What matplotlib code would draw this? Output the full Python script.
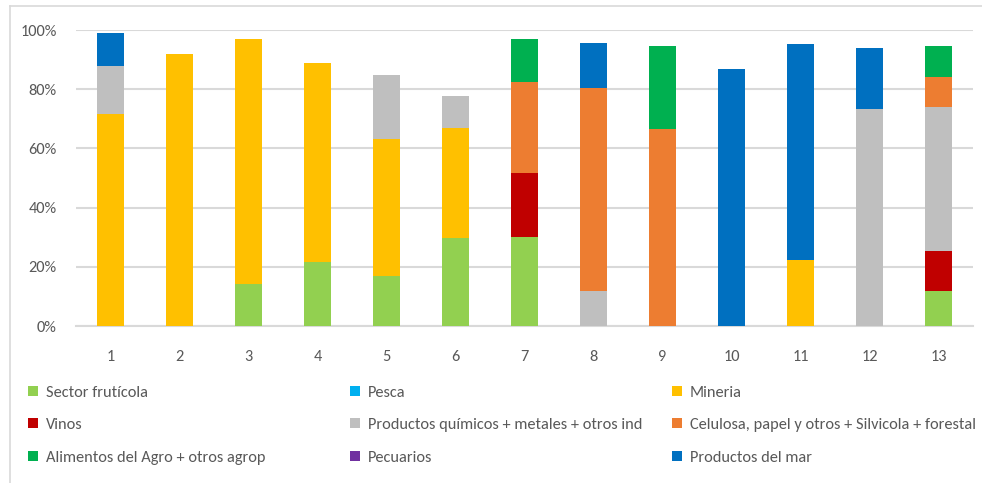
import matplotlib
matplotlib.use("Agg")
import matplotlib.pyplot as plt
from matplotlib.lines import Line2D
from matplotlib.patches import Patch
import numpy as np

plt.rcParams['font.family'] = ['Carlito', 'DejaVu Sans']

categories = ["1", "2", "3", "4", "5", "6", "7", "8", "9", "10", "11", "12", "13"]
series_names = ["Sector frutícola", "Pesca", "Mineria", "Vinos",
                "Productos químicos + metales + otros ind",
                "Celulosa, papel y otros + Silvicola + forestal",
                "Alimentos del Agro + otros agrop", "Pecuarios", "Productos del mar"]
colors = ["#92D050", "#00B0F0", "#FFC000", "#C00000", "#BFBFBF",
          "#ED7D31", "#00B050", "#7030A0", "#0070C0"]

frut      = [0, 0, 14.3, 21.7, 17.0, 29.7, 30.1, 0, 0, 0, 0, 0, 11.8]
pesca     = [0, 0, 0, 0, 0, 0, 0, 0, 0, 0, 0, 0, 0]
mineria   = [71.6, 91.9, 82.7, 67.0, 46.3, 37.3, 0, 0, 0, 0, 22.3, 0, 0]
vinos     = [0, 0, 0, 0, 0, 0, 21.5, 0, 0, 0, 0, 0, 13.5]
quimicos  = [16.2, 0, 0, 0, 21.4, 10.6, 0, 11.8, 0, 0, 0, 73.2, 48.7]
celulosa  = [0, 0, 0, 0, 0, 0, 30.8, 68.6, 66.6, 0, 0, 0, 10.0]
alimentos = [0, 0, 0, 0, 0, 0, 14.6, 0, 28.0, 0, 0, 0, 10.6]
pecuarios = [0, 0, 0, 0, 0, 0, 0, 0, 0, 0, 0, 0, 0]
mar       = [11.1, 0, 0, 0, 0, 0, 0, 15.1, 0, 86.7, 73.1, 20.6, 0]

series = [frut, pesca, mineria, vinos, quimicos, celulosa, alimentos, pecuarios, mar]
yticks = [0, 20, 40, 60, 80, 100]
ytick_labels = ["0%", "20%", "40%", "60%", "80%", "100%"]

W, H = 982, 483
FS = 11.8
fig = plt.figure(figsize=(W / 100, H / 100), dpi=100)
ax = fig.add_axes([76 / W, 1 - 326 / H, (973 - 76) / W, (326 - 30) / H])

x = np.arange(len(categories))
bottom = np.zeros(len(categories))
handles = []
for name, vals, c in zip(series_names, series, colors):
    v = np.array(vals, dtype=float)
    ax.bar(x, v, 0.39, bottom=bottom, color=c, edgecolor='none', zorder=3)
    bottom += v
    handles.append(Patch(facecolor=c, edgecolor='none', label=name))

ax.set_xlim(-0.5, len(categories) - 0.5)
ax.set_ylim(0, 100)
ax.set_yticks(yticks)
ax.set_yticklabels(ytick_labels)
ax.set_xticks(x)
ax.set_xticklabels(categories)
ax.yaxis.grid(True, color='#D9D9D9', linewidth=1.5, zorder=0)
for s in ['top', 'right', 'left']:
    ax.spines[s].set_visible(False)
ax.spines['bottom'].set_color('#D9D9D9')
ax.spines['bottom'].set_linewidth(1.5)
ax.tick_params(axis='both', length=0, colors='#595959', labelsize=FS)
ax.tick_params(axis='x', pad=17)
ax.tick_params(axis='y', pad=14)

# legend entries, row-wise in a 3-column grid
col_x = [28, 350, 672]
row_y = [393, 425, 458]
for i, h in enumerate(handles):
    r, cidx = divmod(i, 3)
    leg = fig.legend(handles=[h], loc='center left',
                     bbox_to_anchor=(col_x[cidx] / W, 1 - row_y[r] / H),
                     frameon=False, fontsize=FS, handlelength=0.6,
                     handleheight=0.6, handletextpad=0.5,
                     borderaxespad=0, borderpad=0)
    for t in leg.get_texts():
        t.set_color('#595959')

fig.add_artist(Line2D([10 / W, 10 / W], [0, 1 - 6 / H], transform=fig.transFigure,
                      color='#D9D9D9', linewidth=1.2))
fig.add_artist(Line2D([10 / W, 1], [1 - 6 / H, 1 - 6 / H], transform=fig.transFigure,
                      color='#D9D9D9', linewidth=1.2))

fig.savefig("out.png", dpi=100)
